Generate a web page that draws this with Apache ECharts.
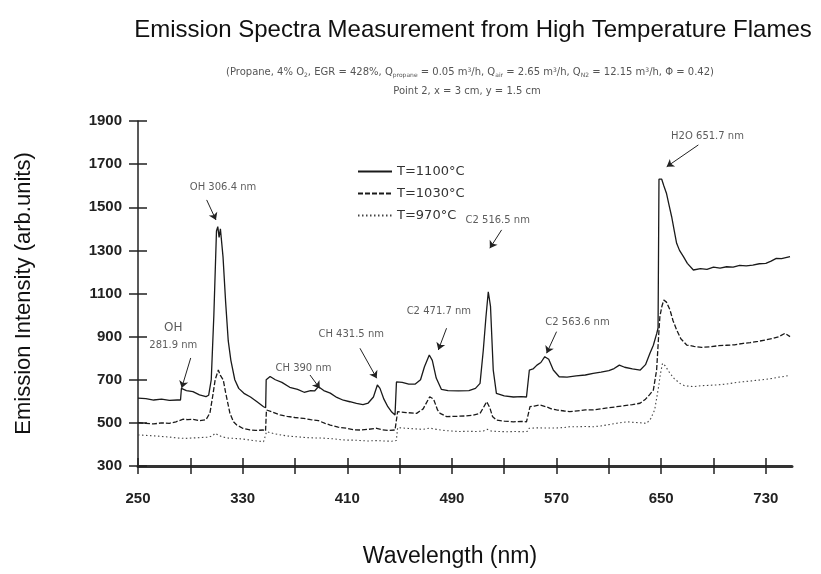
<!DOCTYPE html>
<html>
<head>
<meta charset="utf-8">
<title>Emission Spectra Measurement from High Temperature Flames</title>
<script src="https://cdn.jsdelivr.net/npm/echarts@6/dist/echarts.min.js"></script>
<style>
  html, body { margin: 0; padding: 0; background: #fff; }
  #chart { width: 821px; height: 574px; }
</style>
</head>
<body>
<div id="chart"></div>
<script>
// wavelength (nm) / intensity (arb. units)
const wl1100 = [250, 256, 262, 268, 274, 280, 282.5, 283.2, 287, 292, 297, 302, 304, 306, 308, 310, 311, 312, 313, 315, 317, 319, 321, 324, 327, 331, 336, 341, 346, 347.6, 348, 351, 355, 360, 366, 372, 377, 382, 385, 388, 392, 397, 402, 407, 412, 417, 422, 426, 430, 433, 435, 438, 441, 444, 446.5, 447, 447.6, 452, 457, 462, 466, 469, 472.7, 475, 478, 482, 487, 495, 503, 508, 511.5, 514, 516, 517.8, 519.5, 521.6, 524, 530, 537, 543, 547, 548, 549.2, 552, 555, 558, 561, 564, 567.5, 572, 578, 585, 592, 598, 604, 610, 614, 618, 622, 628, 634, 638, 641.4, 644, 646.6, 647.6, 648.3, 650.4, 652, 654, 656, 658, 660, 661.8, 664, 667, 670, 674.6, 680, 685, 690, 695, 700, 705, 710, 715, 720, 725, 730, 734, 738, 742, 748.5];
const int1100 = [615, 612, 606, 610, 604, 606, 606, 660, 650, 645, 630, 622, 628, 700, 1000, 1390, 1410, 1360, 1400, 1270, 1060, 880, 790, 700, 660, 637, 620, 598, 575, 570, 700, 715, 700, 688, 665, 655, 642, 650, 648, 668, 650, 638, 618, 605, 598, 590, 585, 592, 620, 676, 660, 610, 575, 550, 537, 537, 690, 688, 680, 680, 700, 760, 815, 790, 708, 655, 650, 648, 650, 660, 683, 838, 990, 1108, 1040, 745, 637, 625, 620, 622, 620, 625, 745, 750, 768, 780, 807, 795, 745, 714, 712, 718, 722, 730, 735, 742, 752, 768, 758, 750, 745, 770, 823, 860, 915, 940, 1630, 1630, 1600, 1565, 1510, 1456, 1390, 1333, 1300, 1271, 1240, 1209, 1215, 1212, 1222, 1218, 1224, 1222, 1230, 1228, 1232, 1238, 1240, 1250, 1263, 1262, 1271];

const wl1030 = [250, 256, 262, 268, 274, 279, 284.6, 288, 292, 297, 302, 305, 307, 309, 311.4, 313, 315.2, 317, 320.3, 323, 325.5, 330, 335.6, 340, 345.8, 347.5, 348.2, 352, 358.6, 364, 370, 376.4, 382, 388, 393, 397, 403, 409.5, 415, 420, 426, 432.5, 437, 442, 446.5, 447.5, 448.5, 455, 463, 468, 473, 476, 479, 481, 486, 492, 500, 506, 511.5, 514, 516.6, 519, 521, 524, 530, 537, 543, 547, 548.5, 549.7, 553, 557, 562, 566, 570, 576, 580, 586, 592, 598, 604, 610, 616, 622, 628, 633.8, 638, 641, 644, 646.5, 648, 649, 650.5, 652, 654, 656.7, 659, 661.8, 665, 669.5, 675, 681, 687.3, 694, 700, 706, 712.8, 718, 724, 730, 735.7, 740, 744.6, 748.5];
const int1030 = [501, 498, 495, 500, 498, 505, 517, 515, 517, 510, 515, 546, 620, 700, 745, 720, 699, 640, 544, 505, 490, 475, 467, 465, 467, 462, 560, 552, 537, 530, 525, 521, 515, 510, 498, 490, 480, 475, 468, 467, 470, 475, 468, 465, 467, 465, 552, 548, 544, 565, 621, 610, 560, 544, 529, 530, 532, 535, 544, 570, 598, 570, 530, 513, 508, 505, 507, 505, 508, 575, 578, 583, 575, 565, 560, 555, 552, 556, 560, 560, 565, 570, 575, 580, 585, 591, 610, 630, 652, 745, 900, 993, 1040, 1070, 1060, 1024, 975, 931, 890, 861, 855, 850, 853, 858, 860, 862, 869, 872, 878, 885, 892, 900, 915, 900];

const wl970 = [250, 256, 262, 268, 274, 280, 286, 292, 298, 304, 307, 309, 311, 314, 318, 324, 330, 336, 342, 346, 347.5, 348.3, 354, 360, 366, 371, 378, 385, 390, 394, 400, 405, 409.5, 415, 420, 426, 432, 438, 444, 447.5, 448.5, 455, 462, 468, 473, 478, 484, 490, 496, 502, 508, 514, 517, 520, 526, 532, 538, 544, 547.5, 549, 556, 562, 568, 575, 580, 586, 592, 598, 604, 610, 616, 623.6, 630, 635, 639, 642, 645, 647.8, 649.5, 651, 653, 656.7, 660, 664.4, 668, 674.6, 680, 686, 692.4, 700, 706, 712.8, 718, 724, 730, 735.7, 740, 745, 748.5];
const int970 = [444, 442, 440, 437, 434, 430, 428, 430, 432, 434, 440, 452, 445, 436, 430, 428, 425, 420, 415, 413, 413, 459, 450, 443, 438, 436, 432, 430, 430, 428, 426, 422, 420, 420, 418, 416, 418, 416, 415, 418, 478, 475, 472, 470, 476, 470, 465, 462, 460, 461, 460, 462, 470, 462, 460, 459, 460, 459, 460, 475, 477, 476, 476, 478, 482, 482, 483, 482, 486, 492, 498, 505, 502, 500, 498, 520, 560, 660, 730, 776, 765, 730, 705, 683, 672, 668, 672, 674, 676, 680, 686, 691, 694, 698, 702, 707, 712, 716, 722];

const seriesNames = ["T=1100°C", "T=1030°C", "T=970°C"];

const xTickValues = [250, 290, 330, 370, 410, 450, 490, 530, 570, 610, 650, 690, 730];
const xLabelValues = [250, 330, 410, 490, 570, 650, 730];
const yTickValues = [300, 500, 700, 900, 1100, 1300, 1500, 1700, 1900];

// peak labels: text, text anchor, arrow tail, arrow head (data units)
const noteTexts = ["OH 306.4 nm", "OH", "281.9 nm", "CH 390 nm", "CH 431.5 nm", "C2 471.7 nm", "C2 516.5 nm", "C2 563.6 nm", "H2O 651.7 nm"];
const notePoints = [[315, 1594], [277, 939], [277, 857], [376.5, 754], [413, 912], [480, 1016], [525, 1441], [586, 965], [685.4, 1830]];
const arrowFrom = [[302.5, 1534], [290.3, 801], [381.5, 722], [419.7, 846], [485.9, 939], [528, 1395], [570, 923], [678.4, 1789]];
const arrowTo = [[309.6, 1441], [283.4, 662], [389, 660], [432.5, 707], [479.6, 838], [519, 1310], [562.4, 823], [654.2, 1688]];

const FONT = "Liberation Sans, Arial, sans-serif";
const SCAN_FONT = "DejaVu Sans, sans-serif";

function pairs(xs, ys) {
  return xs.map((x, i) => [x, ys[i]]);
}

const chart = echarts.init(document.getElementById("chart"), null, { renderer: "canvas" });

const lineStyles = [
  { color: "#1a1a1a", width: 1.3, type: "solid" },
  { color: "#1a1a1a", width: 1.3, type: [5, 2] },
  { color: "#444", width: 1.1, type: [1.5, 2.5] }
];

const curves = [pairs(wl1100, int1100), pairs(wl1030, int1030), pairs(wl970, int970)];

const lineSeries = curves.map((data, i) => ({
  name: seriesNames[i],
  type: "line",
  data: data,
  showSymbol: false,
  symbol: "none",
  lineStyle: lineStyles[i],
  itemStyle: { color: lineStyles[i].color },
  silent: true,
  z: 3
}));

// arrows pointing at the peaks
lineSeries[0].markLine = {
  silent: true,
  animation: false,
  symbol: ["none", "arrow"],
  symbolSize: 7,
  label: { show: false },
  lineStyle: { color: "#222", width: 1, type: "solid" },
  data: arrowFrom.map((p, i) => [{ coord: p }, { coord: arrowTo[i] }])
};

const noteSeries = {
  name: "notes",
  type: "scatter",
  symbolSize: 0,
  silent: true,
  data: noteTexts.map((t, i) => ({ value: notePoints[i], name: t })),
  label: {
    show: true,
    position: "inside",
    formatter: (p) => p.name,
    color: "#333",
    fontFamily: SCAN_FONT,
    fontSize: 10
  },
  z: 4
};
noteSeries.data[1].label = { fontSize: 12 };

chart.setOption({
  animation: false,
  backgroundColor: "#fff",
  title: [
    {
      text: "Emission Spectra Measurement from High Temperature Flames",
      left: 468,
      top: 13,
      textAlign: "center",
      textStyle: { fontFamily: FONT, fontSize: 24, fontWeight: "normal", color: "#111" }
    },
    {
      text: "(Propane, 4% O{s|2}, EGR = 428%, Q{s|propane} = 0.05 m{p|3}/h, Q{s|air} = 2.65 m{p|3}/h, Q{s|N2} = 12.15 m{p|3}/h, Φ = 0.42)",
      left: 465,
      top: 62,
      textAlign: "center",
      textStyle: {
        fontFamily: SCAN_FONT, fontSize: 10, fontWeight: "normal", color: "#555",
        rich: {
          s: { fontFamily: SCAN_FONT, fontSize: 6, color: "#555", padding: [5, 0, 0, 0] },
          p: { fontFamily: SCAN_FONT, fontSize: 6, color: "#555", padding: [0, 0, 4, 0] }
        }
      }
    },
    {
      text: "Point 2, x = 3 cm, y = 1.5 cm",
      left: 462,
      top: 81,
      textAlign: "center",
      textStyle: { fontFamily: SCAN_FONT, fontSize: 10, fontWeight: "normal", color: "#555" }
    }
  ],
  legend: {
    data: seriesNames,
    orient: "vertical",
    left: 352,
    top: 160,
    itemWidth: 34,
    itemHeight: 10,
    itemGap: 9,
    selectedMode: false,
    itemStyle: { opacity: 0 },
    textStyle: { fontFamily: SCAN_FONT, fontSize: 13, color: "#333" }
  },
  grid: { left: 138, right: 29, top: 121, bottom: 108 },
  xAxis: [
    {
      type: "value",
      min: 250,
      max: 750,
      interval: 40,
      name: "Wavelength (nm)",
      nameLocation: "middle",
      nameGap: 79,
      nameTextStyle: { fontFamily: FONT, fontSize: 23, color: "#111", padding: [0, 30, 0, 0] },
      axisLine: { show: true, onZero: false, lineStyle: { color: "#333", width: 3 } },
      axisTick: { show: true, length: 8, customValues: xTickValues, lineStyle: { color: "#222", width: 1.5 } },
      axisLabel: {
        customValues: xLabelValues,
        margin: 25,
        fontFamily: FONT,
        fontSize: 15,
        fontWeight: "bold",
        color: "#222"
      },
      splitLine: { show: false }
    },
    {
      type: "value",
      min: 250,
      max: 750,
      interval: 40,
      position: "bottom",
      axisLine: { show: false },
      axisTick: { show: true, inside: true, length: 8, customValues: xTickValues, lineStyle: { color: "#222", width: 1.5 } },
      axisLabel: { show: false },
      splitLine: { show: false }
    }
  ],
  yAxis: [
    {
      type: "value",
      min: 300,
      max: 1900,
      interval: 200,
      name: "Emission Intensity (arb.units)",
      nameLocation: "middle",
      nameGap: 103,
      nameTextStyle: { fontFamily: FONT, fontSize: 22, color: "#111" },
      axisLine: { show: true, onZero: false, lineStyle: { color: "#222", width: 1.5 } },
      axisTick: { show: true, length: 9, customValues: yTickValues, lineStyle: { color: "#222", width: 1.5 } },
      axisLabel: {
        customValues: yTickValues,
        formatter: (v) => String(v),
        margin: 16,
        fontFamily: FONT,
        fontSize: 15,
        fontWeight: "bold",
        color: "#222"
      },
      splitLine: { show: false }
    },
    {
      type: "value",
      min: 300,
      max: 1900,
      interval: 200,
      position: "left",
      axisLine: { show: false },
      axisTick: { show: true, inside: true, length: 9, customValues: yTickValues, lineStyle: { color: "#222", width: 1.5 } },
      axisLabel: { show: false },
      splitLine: { show: false }
    }
  ],
  series: [...lineSeries, noteSeries]
});
</script>
</body>
</html>
